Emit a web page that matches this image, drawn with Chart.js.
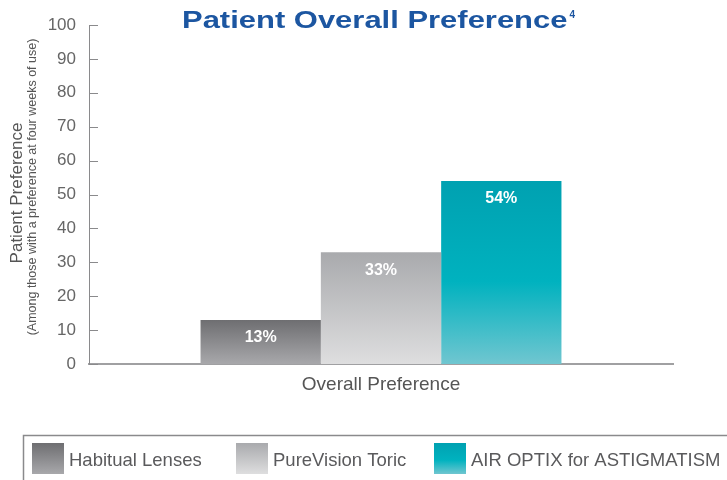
<!DOCTYPE html>
<html>
<head>
<meta charset="utf-8">
<script src="https://cdn.jsdelivr.net/npm/chart.js@4/dist/chart.umd.min.js"></script>
<style>
  html, body { margin: 0; padding: 0; background: #fff; }
  #wrap { width: 727px; height: 480px; position: relative; }
</style>
</head>
<body>
<div id="wrap"><canvas id="chart" width="727" height="480"></canvas></div>
<script>
// chart data
const categories = ["Overall Preference"];
const seriesNames = ["Habitual Lenses", "PureVision Toric", "AIR OPTIX for ASTIGMATISM"];
const seriesValues = [13, 33, 54];
const yTickValues = [0, 10, 20, 30, 40, 50, 60, 70, 80, 90, 100];

// gradient stops for each series (top -> bottom)
const gradients = [
  [[0, "#6e6e71"], [1, "#a8a8ab"]],
  [[0, "#a9aaad"], [1, "#dededf"]],
  [[0, "#00a1b1"], [0.55, "#00b2bf"], [1, "#70c6d0"]]
];

const FONT = "'Liberation Sans', Arial, Helvetica, sans-serif";
const ctx = document.getElementById("chart");

function makeGradient(chart, i, top, bottom) {
  const g = chart.ctx.createLinearGradient(0, top, 0, bottom);
  gradients[i].forEach(s => g.addColorStop(s[0], s[1]));
  return g;
}

function barFill(context) {
  const chart = context.chart;
  const i = context.datasetIndex;
  if (!chart.chartArea) return gradients[i][0][1];
  const y = chart.scales.y;
  const top = y.getPixelForValue(seriesValues[i]);
  const bottom = y.getPixelForValue(0);
  return makeGradient(chart, i, top, bottom);
}

const datasets = seriesNames.map((name, i) => ({
  label: name,
  data: [seriesValues[i]],
  backgroundColor: barFill,
  borderWidth: 0
}));

// draws title, axis title, inner tick marks, bar labels and legend box
const decorations = {
  id: "decorations",
  afterDraw(chart) {
    const c = chart.ctx;
    const y = chart.scales.y;
    const area = chart.chartArea;

    // tick marks pointing into the plot
    c.save();
    c.strokeStyle = "#8a8a8c";
    c.lineWidth = 1;
    yTickValues.forEach(v => {
      const py = Math.round(y.getPixelForValue(v)) + 0.5;
      c.beginPath();
      c.moveTo(area.left, py);
      c.lineTo(area.left + 9, py);
      c.stroke();
    });
    c.restore();

    // title (the original font is wide, so stretch it a bit)
    c.save();
    c.fillStyle = "#1c56a1";
    c.font = "bold 24px " + FONT;
    c.textBaseline = "middle";
    c.textAlign = "left";
    const t = "Patient Overall Preference";
    const sx = 1.29;
    const w = c.measureText(t).width * sx;
    const x0 = 182;
    c.translate(x0, 21);
    c.scale(sx, 1);
    c.fillText(t, 0, 0);
    c.restore();
    c.save();
    c.fillStyle = "#1c56a1";
    c.font = "bold 10px " + FONT;
    c.textBaseline = "middle";
    c.fillText("4", x0 + w + 2, 15);
    c.restore();

    // y axis titles
    c.save();
    c.fillStyle = "#555";
    c.textAlign = "center";
    c.textBaseline = "middle";
    c.translate(17, 193);
    c.rotate(-Math.PI / 2);
    c.font = "17px " + FONT;
    c.fillText("Patient Preference", 0, 0);
    c.restore();
    c.save();
    c.fillStyle = "#555";
    c.textAlign = "center";
    c.textBaseline = "middle";
    c.translate(33, 187);
    c.rotate(-Math.PI / 2);
    c.font = "12.5px " + FONT;
    c.fillText("(Among those with a preference at four weeks of use)", 0, 0);
    c.restore();

    // value labels on bars
    c.save();
    c.fillStyle = "#fff";
    c.font = "bold 16px " + FONT;
    c.textAlign = "center";
    c.textBaseline = "middle";
    chart.data.datasets.forEach((ds, i) => {
      const bar = chart.getDatasetMeta(i).data[0];
      c.fillText(seriesValues[i] + "%", bar.x, bar.y + 18);
    });
    c.restore();

    // legend box
    c.save();
    c.strokeStyle = "#8a8a8c";
    c.lineWidth = 1.5;
    c.strokeRect(23.5, 435.5, 760, 60);
    const swX = [32, 236, 434];
    c.font = "18.5px " + FONT;
    c.textBaseline = "middle";
    c.textAlign = "left";
    seriesNames.forEach((name, i) => {
      c.fillStyle = makeGradient(chart, i, 443, 474);
      c.fillRect(swX[i], 443, 32, 31);
      c.fillStyle = "#5a5a5c";
      c.fillText(name, swX[i] + 37, 461);
    });
    c.restore();
  }
};

new Chart(ctx, {
  type: "bar",
  data: {
    labels: categories,
    datasets: datasets
  },
  options: {
    responsive: false,
    animation: false,
    layout: { padding: { left: 0, top: 25, right: 54, bottom: 0 } },
    categoryPercentage: 0.618,
    barPercentage: 1,
    plugins: {
      legend: { display: false },
      title: { display: false },
      tooltip: { enabled: false }
    },
    scales: {
      x: {
        grid: { display: false, drawTicks: false },
        border: { display: true, color: "#a0a0a2", width: 2 },
        ticks: { color: "#555", font: { family: FONT, size: 19 }, padding: 9 },
        afterFit(scale) { scale.height = 116; }
      },
      y: {
        min: 0,
        max: 100,
        grid: { display: false, drawTicks: false },
        border: { display: true, color: "#8a8a8c", width: 1 },
        afterBuildTicks(scale) { scale.ticks = yTickValues.map(v => ({ value: v })); },
        ticks: { color: "#666", font: { family: FONT, size: 17 }, padding: 13 },
        afterFit(scale) { scale.width = 89; }
      }
    }
  },
  plugins: [decorations]
});
</script>
</body>
</html>
